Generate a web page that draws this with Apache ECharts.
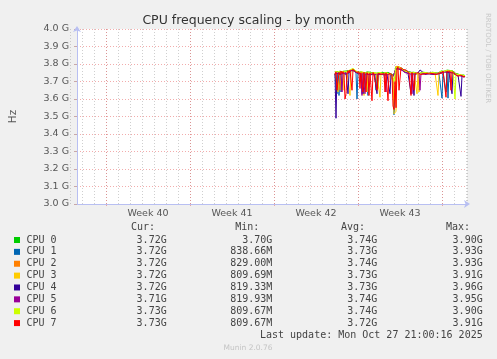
<!DOCTYPE html>
<html><head><meta charset="utf-8">
<script src="https://cdn.jsdelivr.net/npm/echarts@6/dist/echarts.min.js"></script>
<style>html,body{margin:0;padding:0;background:#f0f0f0;}#c{width:497px;height:359px;}</style>
</head><body><div id="c"></div>
<script>
const chartTitle = 'CPU frequency scaling - by month';
const yAxisName = 'Hz';
const weekLabels = ['Week 40', 'Week 41', 'Week 42', 'Week 43'];
const seriesNames = ['CPU 0', 'CPU 1', 'CPU 2', 'CPU 3', 'CPU 4', 'CPU 5', 'CPU 6', 'CPU 7'];
const seriesColors = ['#00CC00', '#0066B3', '#FF8000', '#FFCC00', '#330099', '#990099', '#CCFF00', '#FF0000'];
// sample time axis: hours since the first day grid line, one sample every 2 hours
const firstSampleHour = 530;
const sampleStepHours = 2;
// values in GHz
const cpu0 = [3.752,3.760,3.748,3.757,3.745,3.761,3.750,3.744,3.758,3.752,
              3.747,3.760,3.753,3.749,3.762,3.758,3.770,3.765,3.772,3.768,
              3.763,3.770,3.757,3.752,3.760,3.748,3.755,3.761,3.750,3.746,
              3.752,3.748,3.755,3.744,3.750,3.753,3.747,3.752,3.749,3.743,
              3.751,3.747,3.753,3.745,3.750,3.748,3.744,3.752,3.749,3.746,
              3.750,3.744,3.748,3.752,3.745,3.749,3.743,3.747,3.740,3.735,
              3.760,3.785,3.790,3.782,3.778,3.786,3.780,3.775,3.770,3.766,
              3.762,3.768,3.760,3.757,3.763,3.758,3.752,3.756,3.750,3.753,
              3.748,3.752,3.746,3.750,3.754,3.747,3.751,3.748,3.753,3.749,
              3.745,3.751,3.748,3.752,3.746,3.750,3.747,3.753,3.749,3.745,
              3.751,3.748,3.752,3.747,3.750,3.755,3.760,3.757,3.762,3.758,
              3.763,3.759,3.765,3.761,3.757,3.763,3.758,3.754,3.760,3.752,
              3.748,3.744,3.740,3.743,3.738,3.741,3.736,3.739,3.734,3.737,
              3.733];
const cpu1 = [3.745,3.738,3.630,3.742,3.620,3.748,3.640,3.750,3.743,3.748,
              3.741,3.747,3.752,3.744,3.750,3.755,3.762,3.758,3.766,3.760,
              3.755,3.748,3.600,3.750,3.745,3.752,3.746,3.630,3.749,3.742,
              3.747,3.741,3.748,3.620,3.744,3.739,3.746,3.742,3.737,3.744,
              3.740,3.650,3.743,3.738,3.745,3.741,3.736,3.743,3.739,3.745,
              3.741,3.736,3.743,3.738,3.744,3.739,3.735,3.741,3.700,3.510,
              3.520,3.770,3.782,3.778,3.774,3.779,3.773,3.768,3.763,3.759,
              3.755,3.760,3.754,3.750,3.756,3.751,3.746,3.750,3.744,3.748,
              3.743,3.747,3.741,3.745,3.749,3.742,3.746,3.743,3.748,3.744,
              3.740,3.746,3.743,3.747,3.741,3.745,3.742,3.748,3.744,3.740,
              3.746,3.743,3.747,3.742,3.745,3.750,3.755,3.605,3.757,3.753,
              3.758,3.640,3.760,3.605,3.752,3.758,3.753,3.749,3.755,3.747,
              3.743,3.739,3.735,3.738,3.733,3.736,3.731,3.734,3.729,3.732,
              3.728];
const cpu2 = [3.748,3.742,3.750,3.745,3.740,3.650,3.747,3.752,3.744,3.749,
              3.743,3.750,3.746,3.753,3.748,3.758,3.768,3.772,3.766,3.770,
              3.762,3.757,3.751,3.747,3.753,3.745,3.750,3.744,3.749,3.752,
              3.745,3.750,3.743,3.748,3.742,3.747,3.744,3.749,3.741,3.746,
              3.742,3.748,3.743,3.660,3.745,3.740,3.746,3.742,3.747,3.741,
              3.746,3.742,3.738,3.744,3.739,3.745,3.741,3.737,3.720,3.640,
              3.600,3.788,3.785,3.780,3.776,3.781,3.775,3.770,3.765,3.761,
              3.757,3.762,3.756,3.752,3.758,3.753,3.748,3.752,3.746,3.750,
              3.745,3.749,3.743,3.747,3.751,3.744,3.748,3.745,3.750,3.746,
              3.742,3.748,3.745,3.749,3.743,3.747,3.744,3.750,3.746,3.742,
              3.748,3.745,3.749,3.744,3.747,3.752,3.757,3.753,3.759,3.755,
              3.760,3.756,3.762,3.758,3.754,3.760,3.755,3.751,3.757,3.749,
              3.745,3.741,3.737,3.740,3.735,3.738,3.733,3.736,3.731,3.734,
              3.730];
const cpu3 = [3.750,3.744,3.752,3.640,3.748,3.753,3.746,3.751,3.650,3.747,
              3.752,3.745,3.750,3.755,3.749,3.620,3.765,3.770,3.763,3.768,
              3.760,3.755,3.749,3.753,3.746,3.751,3.745,3.750,3.744,3.620,
              3.748,3.743,3.640,3.747,3.742,3.748,3.743,3.746,3.740,3.745,
              3.741,3.746,3.742,3.747,3.741,3.610,3.744,3.740,3.746,3.742,
              3.747,3.741,3.745,3.739,3.744,3.740,3.746,3.738,3.700,3.515,
              3.510,3.530,3.787,3.781,3.777,3.783,3.776,3.771,3.766,3.762,
              3.758,3.763,3.757,3.753,3.759,3.754,3.749,3.753,3.747,3.751,
              3.746,3.750,3.630,3.748,3.640,3.745,3.749,3.746,3.751,3.747,
              3.743,3.749,3.746,3.750,3.744,3.748,3.745,3.751,3.747,3.743,
              3.749,3.746,3.750,3.620,3.748,3.753,3.758,3.754,3.760,3.756,
              3.761,3.757,3.763,3.759,3.755,3.761,3.756,3.752,3.758,3.750,
              3.746,3.742,3.738,3.741,3.736,3.739,3.734,3.737,3.732,3.735,
              3.731];
const cpu4 = [3.745,3.490,3.748,3.742,3.747,3.741,3.746,3.740,3.745,3.749,
              3.744,3.750,3.746,3.630,3.748,3.753,3.762,3.767,3.760,3.764,
              3.758,3.753,3.747,3.751,3.744,3.749,3.743,3.748,3.630,3.620,
              3.745,3.740,3.746,3.741,3.747,3.742,3.738,3.744,3.739,3.745,
              3.741,3.746,3.630,3.743,3.738,3.744,3.740,3.745,3.739,3.743,
              3.738,3.744,3.740,3.745,3.739,3.630,3.742,3.737,3.730,3.725,
              3.740,3.772,3.780,3.776,3.772,3.777,3.771,3.766,3.761,3.757,
              3.753,3.758,3.752,3.748,3.754,3.749,3.630,3.748,3.742,3.620,
              3.741,3.745,3.739,3.748,3.758,3.766,3.775,3.768,3.752,3.744,
              3.740,3.746,3.743,3.747,3.741,3.745,3.742,3.748,3.744,3.740,
              3.746,3.743,3.747,3.741,3.744,3.749,3.754,3.750,3.756,3.752,
              3.757,3.753,3.759,3.755,3.751,3.757,3.752,3.630,3.754,3.746,
              3.742,3.738,3.734,3.737,3.732,3.735,3.615,3.733,3.728,3.731,
              3.727];
const cpu5 = [3.742,3.748,3.743,3.749,3.744,3.750,3.745,3.640,3.747,3.743,
              3.749,3.744,3.751,3.746,3.752,3.757,3.760,3.766,3.761,3.765,
              3.757,3.752,3.746,3.750,3.744,3.748,3.742,3.620,3.747,3.741,
              3.630,3.744,3.739,3.745,3.740,3.746,3.741,3.745,3.739,3.743,
              3.739,3.744,3.740,3.746,3.741,3.745,3.739,3.744,3.740,3.746,
              3.741,3.640,3.739,3.744,3.738,3.743,3.739,3.736,3.728,3.720,
              3.730,3.775,3.778,3.774,3.770,3.775,3.769,3.764,3.759,3.755,
              3.751,3.756,3.750,3.746,3.752,3.747,3.742,3.630,3.741,3.746,
              3.742,3.746,3.740,3.744,3.748,3.650,3.745,3.742,3.747,3.743,
              3.739,3.745,3.742,3.746,3.740,3.744,3.741,3.747,3.743,3.739,
              3.745,3.742,3.746,3.740,3.743,3.748,3.753,3.749,3.755,3.751,
              3.756,3.752,3.758,3.754,3.750,3.756,3.751,3.747,3.753,3.745,
              3.741,3.737,3.733,3.736,3.731,3.734,3.729,3.732,3.727,3.730,
              3.726];
const cpu6 = [3.758,3.751,3.762,3.755,3.760,3.749,3.757,3.763,3.752,3.758,
              3.754,3.761,3.756,3.763,3.758,3.766,3.773,3.768,3.775,3.770,
              3.765,3.760,3.754,3.759,3.752,3.757,3.751,3.756,3.749,3.753,
              3.748,3.754,3.749,3.753,3.746,3.751,3.748,3.754,3.747,3.752,
              3.746,3.751,3.747,3.753,3.748,3.752,3.745,3.750,3.746,3.751,
              3.747,3.752,3.746,3.750,3.744,3.749,3.745,3.741,3.735,3.700,
              3.745,3.782,3.788,3.785,3.780,3.784,3.778,3.773,3.768,3.764,
              3.760,3.765,3.759,3.755,3.761,3.756,3.751,3.755,3.749,3.752,
              3.747,3.751,3.745,3.749,3.753,3.746,3.750,3.747,3.752,3.748,
              3.744,3.750,3.747,3.751,3.745,3.749,3.746,3.752,3.748,3.744,
              3.750,3.747,3.751,3.746,3.749,3.754,3.759,3.755,3.761,3.757,
              3.762,3.758,3.764,3.760,3.756,3.762,3.757,3.753,3.759,3.751,
              3.600,3.743,3.739,3.742,3.737,3.740,3.735,3.738,3.733,3.736,
              3.732];
const cpu7 = [3.740,3.755,3.650,3.660,3.752,3.738,3.760,3.745,3.757,3.741,
              3.600,3.630,3.748,3.762,3.750,3.766,3.758,3.650,3.770,3.761,
              3.768,3.752,3.760,3.746,3.755,3.660,3.750,3.742,3.640,3.753,
              3.744,3.640,3.751,3.738,3.620,3.749,3.743,3.590,3.752,3.740,
              3.748,3.737,3.650,3.746,3.739,3.751,3.742,3.748,3.736,3.745,
              3.640,3.750,3.741,3.590,3.747,3.738,3.745,3.740,3.560,3.540,
              3.700,3.550,3.770,3.785,3.650,3.660,3.780,3.776,3.768,3.772,
              3.760,3.766,3.755,3.761,3.750,3.757,3.620,3.752,3.745,3.650,
              3.746,3.753,3.741,3.750,3.744,3.752,3.740,3.747,3.751,3.743,
              3.749,3.738,3.746,3.752,3.741,3.748,3.739,3.750,3.744,3.741,
              3.747,3.740,3.751,3.744,3.748,3.742,3.754,3.748,3.760,3.752,
              3.761,3.610,3.758,3.764,3.753,3.759,3.650,3.756,3.748,3.754,
              3.741,3.735,3.742,3.730,3.738,3.727,3.736,3.729,3.733,3.725,
              3.731];
const seriesValues = [cpu0, cpu1, cpu2, cpu3, cpu4, cpu5, cpu6, cpu7];

const legendHeaders = ['Cur:', 'Min:', 'Avg:', 'Max:'];
const curVals = ['3.72G', '3.72G', '3.72G', '3.72G', '3.72G', '3.71G', '3.73G', '3.73G'];
const minVals = ['3.70G', '838.66M', '829.00M', '809.69M', '819.33M', '819.93M', '809.67M', '809.67M'];
const avgVals = ['3.74G', '3.73G', '3.74G', '3.73G', '3.73G', '3.74G', '3.74G', '3.72G'];
const maxVals = ['3.90G', '3.93G', '3.93G', '3.91G', '3.96G', '3.95G', '3.90G', '3.91G'];
const lastUpdate = 'Last update: Mon Oct 27 21:00:16 2025';
const footerText = 'Munin 2.0.76';
const sideText = 'RRDTOOL / TOBI OETIKER';

const chart = echarts.init(document.getElementById('c'), null, {renderer: 'canvas'});

const gridTop = 29, gridH = 175;
const redGrid = 'rgba(230,90,90,0.5)';
const grayGrid = 'rgba(160,160,160,0.5)';
const axisBlue = '#b8bff2';
const mono = '"DejaVu Sans Mono", monospace';

const series = seriesNames.map((name, s) => ({
  name, type: 'line', xAxisIndex: 1, yAxisIndex: 1,
  showSymbol: false, animation: false, silent: true,
  lineStyle: {width: 1, color: seriesColors[s]},
  itemStyle: {color: seriesColors[s]},
  data: seriesValues[s].map((v, i) => [firstSampleHour + i * sampleStepHours, v])
}));

const graphics = [];
const colRight = [166.7, 272.3, 377.3, 482.7];
const headRight = [155, 259.3, 365, 470];
legendHeaders.forEach((h, k) => graphics.push({type: 'text', x: headRight[k], y: 227.7,
  style: {text: h, font: '10px ' + mono, fill: '#444', align: 'right', verticalAlign: 'middle'}}));
seriesNames.forEach((name, s) => {
  const y = 240 + s * 11.87;
  graphics.push({type: 'rect', shape: {x: 14, y: y - 3, width: 6, height: 6}, style: {fill: seriesColors[s]}});
  graphics.push({type: 'text', x: 26.5, y, style: {text: name, font: '10px ' + mono, fill: '#444', align: 'left', verticalAlign: 'middle'}});
  [curVals, minVals, avgVals, maxVals].forEach((arr, k) => graphics.push({type: 'text', x: colRight[k], y,
    style: {text: arr[s], font: '10px ' + mono, fill: '#444', align: 'right', verticalAlign: 'middle'}}));
});
graphics.push({type: 'text', x: 482.7, y: 335.7, style: {text: lastUpdate, font: '10px ' + mono, fill: '#444', align: 'right', verticalAlign: 'middle'}});
graphics.push({type: 'text', x: 248, y: 348.3, style: {text: footerText, font: '7.5px "DejaVu Sans", sans-serif', fill: '#c4c4c4', align: 'center', verticalAlign: 'middle'}});
graphics.push({type: 'text', x: 487.5, y: 58, rotation: -Math.PI / 2,
  style: {text: sideText, font: '7px "DejaVu Sans", sans-serif', fill: '#c8c8c8', align: 'center', verticalAlign: 'middle'}});

chart.setOption({
  backgroundColor: '#f0f0f0',
  animation: false,
  textStyle: {fontFamily: '"DejaVu Sans", sans-serif'},
  title: {text: chartTitle, left: 'center', top: 9,
    textStyle: {fontSize: 12.5, fontWeight: 'normal', color: '#333', fontFamily: '"DejaVu Sans", sans-serif'}},
  grid: [
    {left: 67, top: gridTop, width: 400, height: gridH, show: true, backgroundColor: '#ffffff', borderWidth: 0},
    {left: 70, top: gridTop, width: 397, height: gridH},
    {left: 106, top: gridTop, width: 336, height: gridH}
  ],
  xAxis: [
    {gridIndex: 0, type: 'value', min: 0, max: 800, z: 3,
      axisLine: {show: true, lineStyle: {color: axisBlue, width: 1}, symbol: ['none', 'arrow'], symbolSize: [6, 6], symbolOffset: [0, 3]},
      axisTick: {show: false}, axisLabel: {show: false}, splitLine: {show: false}},
    {gridIndex: 1, type: 'value', min: 0, max: 794, interval: 24, z: 1,
      axisLine: {show: false}, axisTick: {show: false}, axisLabel: {show: false},
      splitLine: {show: true, lineStyle: {color: grayGrid, width: 1, type: [1, 2]}}},
    {gridIndex: 2, type: 'category', data: weekLabels, boundaryGap: true, z: 2,
      axisLine: {show: false},
      axisTick: {show: true, length: 2, lineStyle: {color: redGrid}},
      axisLabel: {show: true, color: '#555', fontSize: 9.5, margin: 5, fontFamily: '"DejaVu Sans", sans-serif'},
      splitLine: {show: true, lineStyle: {color: redGrid, width: 1, type: [1, 2]}}}
  ],
  yAxis: [
    {gridIndex: 0, type: 'value', min: 3.0, max: 4.0, interval: 0.1, z: 3,
      name: yAxisName, nameLocation: 'middle', nameGap: 58, nameRotate: 90,
      nameTextStyle: {color: '#555', fontSize: 10.5, fontFamily: '"DejaVu Sans", sans-serif'},
      axisLine: {show: true, lineStyle: {color: axisBlue, width: 1}, symbol: ['none', 'arrow'], symbolSize: [6, 6], symbolOffset: [0, 3]},
      axisTick: {show: true, length: 3, lineStyle: {color: '#c8a8a8'}},
      axisLabel: {color: '#555', fontSize: 9.5, margin: 8, fontFamily: '"DejaVu Sans", sans-serif',
        formatter: v => v.toFixed(1) + ' G'},
      splitLine: {show: true, lineStyle: {color: redGrid, width: 1, type: [1, 2]}}},
    {gridIndex: 1, type: 'value', min: 3.0, max: 4.0, show: false, splitLine: {show: false}},
    {gridIndex: 2, type: 'value', min: 3.0, max: 4.0, show: false, splitLine: {show: false}}
  ],
  series,
  graphic: graphics
});
</script></body></html>
